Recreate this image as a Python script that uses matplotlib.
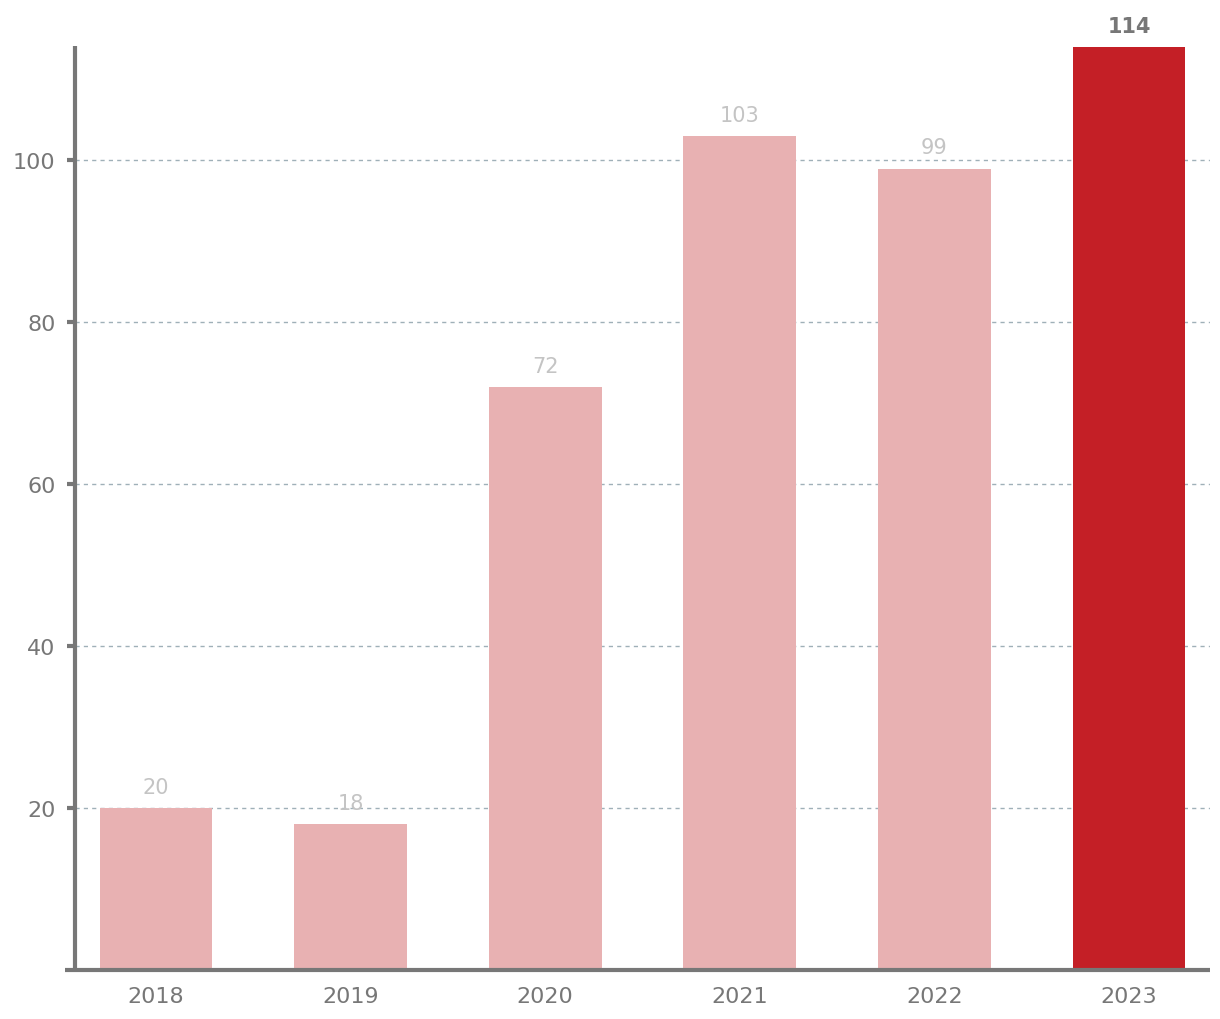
import matplotlib
matplotlib.use("Agg")
import matplotlib.pyplot as plt

years = ["2018", "2019", "2020", "2021", "2022", "2023"]
values = [20, 18, 72, 103, 99, 114]
yticks = [20, 40, 60, 80, 100]

plt.rcParams["font.family"] = ["DejaVu Sans"]

fig = plt.figure(figsize=(12.2, 10.2), dpi=100)
ax = fig.add_axes([0.0615, 0.0485, 0.9303, 0.9058])

x = list(range(len(years)))
colors = ["#e8b1b2"] * (len(years) - 1) + ["#c41f26"]
ax.bar(x, values, width=0.58, color=colors, zorder=2)

# Value labels; the last year is highlighted
for i, v in enumerate(values):
    last = i == len(values) - 1
    ax.annotate(str(v), (i, v), xytext=(0, 8), textcoords="offset points",
                ha="center", va="bottom", fontsize=15,
                color="#777777" if last else "#c4c4c4",
                fontweight="bold" if last else "normal")

ax.set_xlim(-0.416, 5.416)
ax.set_ylim(0, 114.2)
ax.set_xticks(x)
ax.set_xticklabels(years)
ax.set_yticks(yticks)
ax.yaxis.grid(True, linestyle=(0, (3, 3)), color="#9fb0b8", linewidth=1, zorder=0)
ax.set_axisbelow(True)

ax.tick_params(axis="x", length=0, pad=12, labelsize=16, labelcolor="#777777")
ax.tick_params(axis="y", length=6, width=3, color="#777777", pad=8,
               labelsize=16, labelcolor="#777777")

for s in ["top", "right", "bottom"]:
    ax.spines[s].set_visible(False)
ax.spines["left"].set_linewidth(3)
ax.spines["left"].set_color("#777777")
ax.spines["left"].set_capstyle("butt")
# bottom axis line sticks out a bit past the left spine
ax.plot([-0.009, 1.0], [0, 0], transform=ax.transAxes, color="#777777",
        linewidth=3, clip_on=False, zorder=3, solid_capstyle="butt")

fig.savefig("out.png", dpi=100)
